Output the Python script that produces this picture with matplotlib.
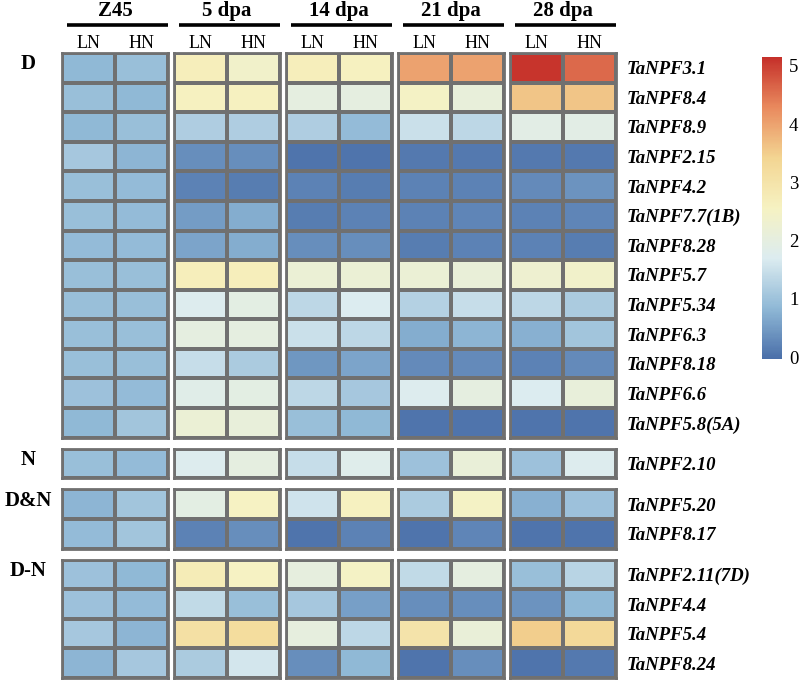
import numpy as np
import matplotlib
matplotlib.use('Agg')
import matplotlib.pyplot as plt
from matplotlib.colors import LinearSegmentedColormap, Normalize

plt.rcParams['font.family'] = ['Liberation Serif', 'DejaVu Serif']

# stages and treatments
stages = ['Z45', '5 dpa', '14 dpa', '21 dpa', '28 dpa']
treatments = ['LN', 'HN']

# gene groups
group_names = ['D', 'N', 'D&N', 'D-N']
genes_D = ['TaNPF3.1', 'TaNPF8.4', 'TaNPF8.9', 'TaNPF2.15', 'TaNPF4.2',
           'TaNPF7.7(1B)', 'TaNPF8.28', 'TaNPF5.7', 'TaNPF5.34', 'TaNPF6.3',
           'TaNPF8.18', 'TaNPF6.6', 'TaNPF5.8(5A)']
genes_N = ['TaNPF2.10']
genes_DN = ['TaNPF5.20', 'TaNPF8.17']
genes_DmN = ['TaNPF2.11(7D)', 'TaNPF4.4', 'TaNPF5.4', 'TaNPF8.24']

# expression, columns: Z45 LN/HN, 5 dpa LN/HN, 14 dpa, 21 dpa, 28 dpa
vals_D = [
    [0.85, 0.95, 2.7, 2.4, 2.7, 2.6, 4.0, 4.0, 5.1, 4.6],
    [0.95, 0.85, 2.6, 2.6, 2.0, 2.0, 2.5, 2.1, 3.6, 3.6],
    [0.85, 0.95, 1.2, 1.2, 1.2, 0.9, 1.5, 1.35, 1.9, 1.9],
    [1.1, 0.8, 0.35, 0.35, 0.05, 0.05, 0.1, 0.1, 0.1, 0.1],
    [0.95, 0.9, 0.2, 0.15, 0.2, 0.15, 0.2, 0.2, 0.3, 0.4],
    [0.95, 0.9, 0.5, 0.7, 0.15, 0.2, 0.2, 0.25, 0.2, 0.25],
    [0.9, 0.9, 0.6, 0.7, 0.35, 0.35, 0.15, 0.2, 0.2, 0.15],
    [0.95, 0.95, 2.7, 2.7, 2.2, 2.2, 2.2, 2.15, 2.3, 2.4],
    [0.95, 0.95, 1.75, 1.95, 1.35, 1.7, 1.25, 1.45, 1.35, 1.15],
    [0.95, 0.95, 2.0, 2.0, 1.5, 1.35, 0.7, 0.8, 0.75, 1.05],
    [0.95, 0.95, 1.45, 1.15, 0.45, 0.6, 0.3, 0.3, 0.2, 0.3],
    [1.0, 0.9, 1.85, 1.95, 1.35, 1.1, 1.75, 2.0, 1.7, 2.1],
    [0.85, 1.05, 2.2, 2.1, 0.95, 0.85, 0.05, 0.05, 0.05, 0.05],
]
vals_N = [
    [0.95, 0.9, 1.75, 2.0, 1.45, 1.8, 1.0, 2.15, 1.0, 1.75],
]
vals_DN = [
    [0.8, 1.05, 1.95, 2.55, 1.55, 2.6, 1.15, 2.5, 0.75, 1.0],
    [0.9, 1.05, 0.2, 0.35, 0.05, 0.2, 0.05, 0.25, 0.05, 0.05],
]
vals_DmN = [
    [1.0, 0.85, 2.75, 2.55, 2.05, 2.5, 1.4, 2.0, 0.95, 1.3],
    [1.0, 0.9, 1.4, 0.95, 1.1, 0.55, 0.35, 0.35, 0.4, 0.85],
    [1.1, 0.8, 3.1, 3.2, 2.05, 1.35, 3.0, 2.15, 3.5, 3.3],
    [0.8, 1.1, 1.15, 1.6, 0.35, 0.85, 0.05, 0.35, 0.05, 0.1],
]

groups = [(genes_D, vals_D), (genes_N, vals_N), (genes_DN, vals_DN), (genes_DmN, vals_DmN)]

# muted pheatmap-like palette
cmap = LinearSegmentedColormap.from_list(
    'rdylbu', ['#4a6fa9', '#8fb8d6', '#dcecf0', '#f6f2c2', '#f3d592', '#e98a5e', '#c5302a'])
norm = Normalize(vmin=-0.03, vmax=5.15)

fig = plt.figure(figsize=(8, 6.81), dpi=100)
gs = fig.add_gridspec(len(groups), len(stages),
                      height_ratios=[len(g[0]) for g in groups],
                      left=62 / 800, right=616 / 800, top=1 - 53 / 681, bottom=1 - 678 / 681,
                      wspace=0.057, hspace=0.075)

edge = '#707070'
for gi, (genes, vals) in enumerate(groups):
    arr = np.array(vals)
    for si, stage in enumerate(stages):
        ax = fig.add_subplot(gs[gi, si])
        block = arr[:, 2 * si:2 * si + 2]
        ax.pcolormesh(block, cmap=cmap, norm=norm, edgecolors=edge, linewidth=1.5)
        ax.set_xlim(0, 2)
        ax.set_ylim(len(genes), 0)
        for sp in ax.spines.values():
            sp.set_color(edge)
            sp.set_linewidth(2)
        ax.set_yticks([])
        if gi == 0:
            ax.xaxis.tick_top()
            ax.set_xticks([0.5, 1.5])
            ax.set_xticklabels(treatments, fontsize=13)
            ax.tick_params(axis='x', length=0, pad=1)
            ax.plot([0.05, 1.0], [1.073, 1.073], transform=ax.transAxes,
                    color='black', lw=2.6, clip_on=False, solid_capstyle='butt')
            ax.text(0.5, 1.095, stage, transform=ax.transAxes, ha='center', va='baseline',
                    fontsize=15, fontweight='bold')
        else:
            ax.set_xticks([])
        if si == len(stages) - 1:
            ax.yaxis.tick_right()
            ax.set_yticks(np.arange(len(genes)) + 0.5)
            ax.set_yticklabels(genes, fontsize=13.5, fontweight='bold', fontstyle='italic')
            ax.tick_params(axis='y', length=0, pad=8)
        if si == 0:
            ax.text(-0.64, 0.38, group_names[gi], ha='center', va='center',
                    fontsize=15, fontweight='bold')

# colorbar
cax = fig.add_axes([762 / 800, 1 - 359 / 681, 20 / 800, 302 / 681])
sm = plt.cm.ScalarMappable(cmap=cmap, norm=norm)
cb = fig.colorbar(sm, cax=cax, ticks=[0, 1, 2, 3, 4, 5])
cb.outline.set_visible(False)
cb.ax.tick_params(length=0, labelsize=13.5, pad=5)

fig.savefig('out.png', dpi=100)
plt.close(fig)
